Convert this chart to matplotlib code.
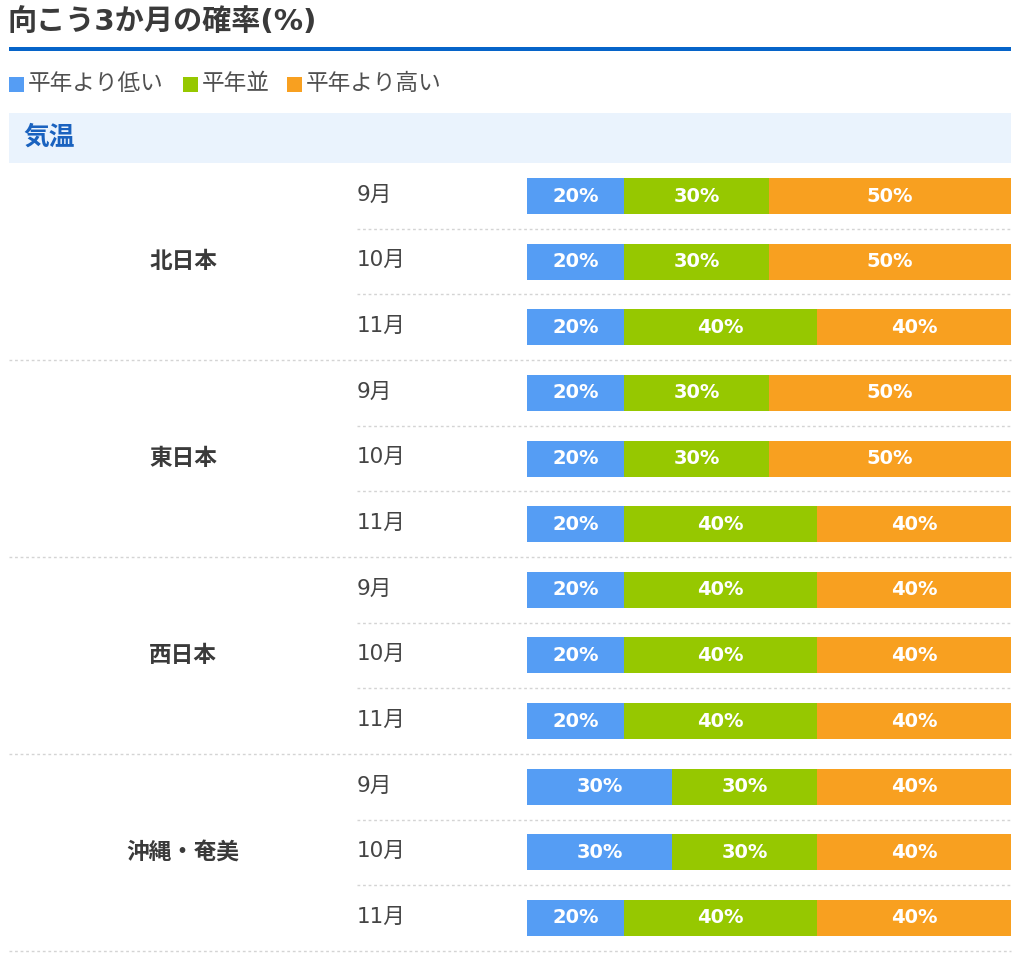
import matplotlib
matplotlib.use("Agg")
import matplotlib.pyplot as plt
from matplotlib.patches import Rectangle
from matplotlib.transforms import blended_transform_factory
import numpy as np

plt.rcParams['font.family'] = ['Noto Sans CJK JP', 'DejaVu Sans']
latin_first = ['DejaVu Sans', 'Noto Sans CJK JP']

# ---- data ----
title = "向こう3か月の確率(%)"
section = "気温"
series_names = ["平年より低い", "平年並", "平年より高い"]
series_colors = ["#559df4", "#96c800", "#f8a020"]
regions = ["北日本", "東日本", "西日本", "沖縄・奄美"]
months = ["9月", "10月", "11月"]
low = [20, 20, 20, 20, 20, 20, 20, 20, 20, 30, 30, 20]
normal = [30, 30, 40, 30, 30, 40, 40, 40, 40, 30, 30, 40]
high = [50, 50, 40, 50, 50, 40, 40, 40, 40, 40, 40, 40]

W, H = 1024, 960
fig = plt.figure(figsize=(W / 100, H / 100), dpi=100)

# background pixel-coordinate axes for layout decorations
bg = fig.add_axes([0, 0, 1, 1])
bg.set_xlim(0, W)
bg.set_ylim(H, 0)
bg.axis('off')

text_dark = "#3a3a3a"

# title and rule
bg.text(8, 22, title, fontsize=21, fontweight='bold', color=text_dark,
        va='center', ha='left', family=latin_first)
bg.add_patch(Rectangle((9, 46.5), 1002, 4.5, color="#0664c9", lw=0))

# legend
leg_x = [9, 183, 287]
for lx, name, col in zip(leg_x, series_names, series_colors):
    bg.add_patch(Rectangle((lx, 77), 14.5, 14.5, color=col, lw=0))
    bg.text(lx + 19, 83, name, fontsize=16.3, color="#505050", va='center', ha='left')

# section header
bg.add_patch(Rectangle((9, 113), 1002, 50, color="#eaf3fd", lw=0))
bg.text(23, 137, section, fontsize=18.5, fontweight='bold', color="#1a62bf",
        va='center', ha='left')

# bar axes
n = len(low)
row_top_px = 163.2
row_bot_px = 950.8
x0_px, x1_px = 527, 1011
ax = fig.add_axes([x0_px / W, 1 - row_bot_px / H, (x1_px - x0_px) / W,
                   (row_bot_px - row_top_px) / H])
ax.set_xlim(0, 100)
ax.set_ylim(n - 0.5, -0.5)
ax.axis('off')

y = np.arange(n)
low_a = np.array(low)
norm_a = np.array(normal)
high_a = np.array(high)
bar_h = 0.55
lefts = [np.zeros(n), low_a, low_a + norm_a]
vals = [low_a, norm_a, high_a]
for v, l, col in zip(vals, lefts, series_colors):
    bars = ax.barh(y, v, left=l, height=bar_h, color=col, lw=0)
    for rect, val in zip(bars, v):
        cx = rect.get_x() + rect.get_width() / 2
        cy = rect.get_y() + rect.get_height() / 2
        ax.text(cx, cy, f"{val}%", color="white", fontsize=14, fontweight='bold',
                ha='center', va='center', family=latin_first)

# labels and separators using pixel x, data y
tr = blended_transform_factory(bg.transData, ax.transData)
dot_kw = dict(color="#d4d4d4", lw=1.0, ls=(0, (2, 2)), transform=tr, clip_on=False)
for gi, reg in enumerate(regions):
    base = gi * len(months)
    ax.text(183, base + 1, reg, transform=tr, fontsize=16.3, fontweight='bold',
            color=text_dark, ha='center', va='center')
    for mi, m in enumerate(months):
        ax.text(357, base + mi - 0.02, m, transform=tr, fontsize=15.5, color="#444444",
                ha='left', va='center', family=latin_first)
        if mi < len(months) - 1:
            yy = base + mi + 0.5
            ax.plot([357, 1011], [yy, yy], **dot_kw)
    yy = base + len(months) - 0.5
    ax.plot([9, 1011], [yy, yy], **dot_kw)

fig.savefig("out.png", dpi=100, facecolor="white")
